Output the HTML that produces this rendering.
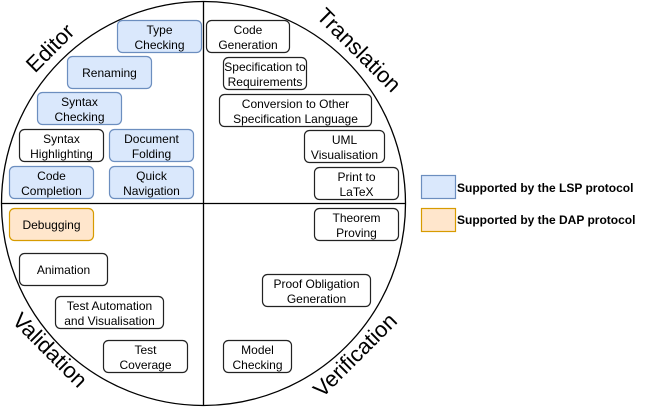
<!DOCTYPE html>
<html><head><style>
html,body{margin:0;padding:0;background:#fff;}
svg{display:block;}
svg text{font-family:"Liberation Sans",Arial,Helvetica,sans-serif;}
</style></head><body>
<svg width="664" height="408" viewBox="0 0 664 408" xmlns="http://www.w3.org/2000/svg" font-family="'Liberation Sans', Arial, sans-serif">
<circle cx="203.5" cy="203.5" r="202" fill="#fff" stroke="#000" stroke-width="1.3"/>
<line x1="203.5" y1="1.5" x2="203.5" y2="405.5" stroke="#000" stroke-width="1.3"/>
<line x1="1.5" y1="203.5" x2="405.5" y2="203.5" stroke="#000" stroke-width="1.3"/>
<g font-size="22" text-anchor="middle" dominant-baseline="central">
<text transform="translate(50,48) rotate(-45)">Editor</text>
<text transform="translate(359,50) rotate(45)">Translation</text>
<text transform="translate(50,350) rotate(45)">Validation</text>
<text transform="translate(355,355) rotate(-45)">Verification</text>
</g>
<g font-size="12" text-anchor="middle" stroke-width="1.2">
<g fill="#dae8fc" stroke="#6c8ebf">
<rect x="117.5" y="20.5" width="84" height="32" rx="5"/>
<rect x="67.5" y="56.5" width="84" height="32" rx="5"/>
<rect x="37.5" y="92.5" width="84" height="32" rx="5"/>
<rect x="109.5" y="129.5" width="84" height="32" rx="5"/>
<rect x="9.5" y="166.5" width="84" height="32" rx="5"/>
<rect x="109.5" y="166.5" width="84" height="32" rx="5"/>
<rect x="421.5" y="175.5" width="34" height="23"/>
</g>
<g fill="#ffe6cc" stroke="#d79b00">
<rect x="9.5" y="208.5" width="84" height="32" rx="5"/>
<rect x="421.5" y="208.5" width="34" height="23"/>
</g>
<g fill="#fff" stroke="#222">
<rect x="19.5" y="129.5" width="84" height="32" rx="5"/>
<rect x="19.5" y="253.5" width="88" height="32" rx="5"/>
<rect x="55.5" y="296.5" width="108" height="32" rx="5"/>
<rect x="103.5" y="340.5" width="84" height="32" rx="5"/>
<rect x="206.5" y="20.5" width="83" height="32" rx="5"/>
<rect x="223.5" y="57.5" width="83" height="32" rx="5"/>
<rect x="219.5" y="94.5" width="152" height="32" rx="5"/>
<rect x="304.5" y="130.5" width="80" height="32" rx="5"/>
<rect x="314.5" y="167.5" width="84" height="32" rx="5"/>
<rect x="314.5" y="208.5" width="84" height="32" rx="5"/>
<rect x="262.5" y="274.5" width="108" height="32" rx="5"/>
<rect x="223.5" y="340.5" width="68" height="32" rx="5"/>
</g>
<g fill="#000">
<text x="159.5" y="34">Type</text><text x="159.5" y="49">Checking</text>
<text x="109.5" y="77">Renaming</text>
<text x="79.5" y="106">Syntax</text><text x="79.5" y="121">Checking</text>
<text x="61.5" y="143">Syntax</text><text x="61.5" y="158">Highlighting</text>
<text x="151.5" y="143">Document</text><text x="151.5" y="158">Folding</text>
<text x="51.5" y="180">Code</text><text x="51.5" y="195">Completion</text>
<text x="151.5" y="180">Quick</text><text x="151.5" y="195">Navigation</text>
<text x="51.5" y="229">Debugging</text>
<text x="63.5" y="274">Animation</text>
<text x="109.5" y="310">Test Automation</text><text x="109.5" y="325">and Visualisation</text>
<text x="145.5" y="354">Test</text><text x="145.5" y="369">Coverage</text>
<text x="248" y="34">Code</text><text x="248" y="49">Generation</text>
<text x="265" y="71">Specification to</text><text x="265" y="86">Requirements</text>
<text x="295.5" y="108">Conversion to Other</text><text x="295.5" y="123">Specification Language</text>
<text x="344.5" y="144">UML</text><text x="344.5" y="159">Visualisation</text>
<text x="356.5" y="181">Print to</text><text x="356.5" y="196">LaTeX</text>
<text x="356.5" y="222">Theorem</text><text x="356.5" y="237">Proving</text>
<text x="316.5" y="288">Proof Obligation</text><text x="316.5" y="303">Generation</text>
<text x="257.5" y="354">Model</text><text x="257.5" y="369">Checking</text>
</g>
</g>
<g font-size="12" font-weight="bold" fill="#000">
<text x="457" y="192">Supported by the LSP protocol</text>
<text x="457" y="224">Supported by the DAP protocol</text>
</g>
</svg>
</body></html>
